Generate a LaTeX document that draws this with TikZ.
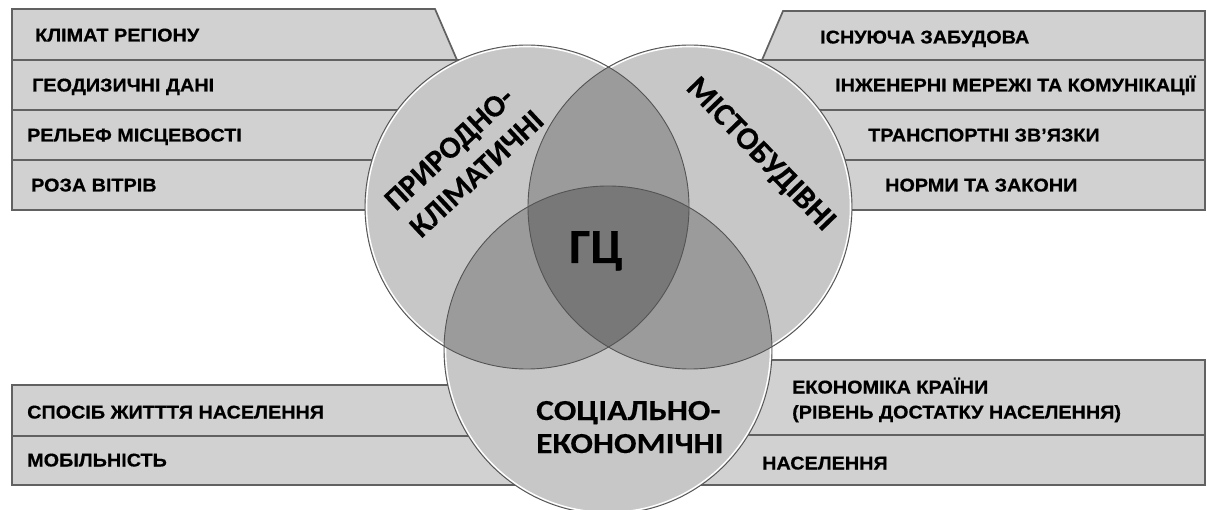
\documentclass[tikz,border=0pt]{standalone}
\usepackage{fontspec}
\setmainfont{Liberation Sans}[FakeStretch=1.07, BoldFeatures={FakeBold=0.6}]
\newfontfamily\calib{Carlito}[BoldFeatures={FakeBold=0.3}]
\newfontfamily\calibw{Carlito}[FakeStretch=1.15, BoldFeatures={FakeBold=0.3}]
\definecolor{boxfill}{gray}{0.82}
\definecolor{boxline}{gray}{0.38}
\definecolor{circline}{gray}{0.33}
\tikzset{
  boxst/.style={fill=boxfill, draw=boxline, line width=1.7pt, line join=miter},
  lbl/.style={anchor=base west, inner sep=0pt, font=\fontsize{18.5}{25}\selectfont\bfseries},
  clbl/.style={inner sep=0pt, align=left},
  circfill/.style={fill=black, opacity=0.22},
  circdraw/.style={draw=circline, line width=0.9pt},
  halo/.style={draw=white, line width=1.4pt}
}
\begin{document}
\begin{tikzpicture}[x=1pt,y=-1pt]
\useasboundingbox (0,0) rectangle (1207,510);
\fill[white] (0,0) rectangle (1207,510);
% ---------- boxes, left top
\draw[boxst] (12,9) -- (435,9) -- (457,60) -- (12,60) -- cycle;
\draw[boxst] (12,60) rectangle (520,110);
\draw[boxst] (12,110) rectangle (520,160);
\draw[boxst] (12,160) rectangle (520,210);
% right top
\draw[boxst] (1205,11) -- (783,11) -- (762,60) -- (1205,60) -- cycle;
\draw[boxst] (700,60) rectangle (1205,110);
\draw[boxst] (700,110) rectangle (1205,160);
\draw[boxst] (700,160) rectangle (1205,210);
% bottom left
\draw[boxst] (12,385) rectangle (560,436);
\draw[boxst] (12,436) rectangle (560,485);
% bottom right
\draw[boxst] (650,360) rectangle (1205,435);
\draw[boxst] (650,435) rectangle (1205,485);
% ---------- circles
\coordinate (L) at (527,207);
\coordinate (R) at (690,207);
\coordinate (B) at (608,350);
\fill[white] (L) circle (162) (R) circle (162) (B) circle (164);
\fill[circfill] (L) circle (162);
\fill[circfill] (R) circle (162);
\fill[circfill] (B) circle (164);
% halos on the outer boundary only
\begin{scope}[even odd rule]
  \clip (-5,-5) rectangle (1212,515) (R) circle (162);
  \clip (-5,-5) rectangle (1212,515) (B) circle (164);
  \draw[halo] (L) circle (160.4);
\end{scope}
\begin{scope}[even odd rule]
  \clip (-5,-5) rectangle (1212,515) (L) circle (162);
  \clip (-5,-5) rectangle (1212,515) (B) circle (164);
  \draw[halo] (R) circle (160.4);
\end{scope}
\begin{scope}[even odd rule]
  \clip (-5,-5) rectangle (1212,515) (L) circle (162);
  \clip (-5,-5) rectangle (1212,515) (R) circle (162);
  \draw[halo] (B) circle (162.4);
\end{scope}
\draw[circdraw] (L) circle (162);
\draw[circdraw] (R) circle (162);
\draw[circdraw] (B) circle (164);
% ---------- box labels
\node[lbl] (t1) at (35,41.5) {КЛІМАТ РЕГІОНУ};
\node[lbl] (t2) at (32,91.5) {ГЕОДИЗИЧНІ ДАНІ};
\node[lbl] (t3) at (27,141.5) {РЕЛЬЕФ МІСЦЕВОСТІ};
\node[lbl] (t4) at (31,191.5) {РОЗА ВІТРІВ};
\node[lbl] (r1) at (820,43.5) {ІСНУЮЧА ЗАБУДОВА};
\node[lbl] (r2) at (835,91.5) {ІНЖЕНЕРНІ МЕРЕЖІ ТА КОМУНІКАЦІЇ};
\node[lbl] (r3) at (868,141.5) {ТРАНСПОРТНІ ЗВ'ЯЗКИ};
\node[lbl] (r4) at (885,191.5) {НОРМИ ТА ЗАКОНИ};
\node[lbl] (b1) at (27,418.5) {СПОСІБ ЖИТТТЯ НАСЕЛЕННЯ};
\node[lbl] (b2) at (27,466.5) {МОБІЛЬНІСТЬ};
\node[lbl] (e1) at (792,393.5) {ЕКОНОМІКА КРАЇНИ};
\node[lbl] (e1b) at (792,418.5) {(РІВЕНЬ ДОСТАТКУ НАСЕЛЕННЯ)};
\node[lbl] (e2) at (762,469.5) {НАСЕЛЕННЯ};
% ---------- circle labels
\node[clbl, font=\calib\bfseries\fontsize{49}{50}\selectfont, anchor=base] (gc) at (596,263) {ГЦ};
\node[clbl, font=\calibw\bfseries\fontsize{29}{33}\selectfont, anchor=base west] (se) at (536,453) {СОЦІАЛЬНО-\\ЕКОНОМІЧНІ};
\node[clbl, font=\calib\bfseries\fontsize{31}{37}\selectfont, rotate=43] (pk) at (464,160) {ПРИРОДНО-\\КЛІМАТИЧНІ};
\node[clbl, font=\calib\bfseries\fontsize{32}{36}\selectfont, rotate=-46] (mb) at (760,155) {МІСТОБУДІВНІ};
\end{tikzpicture}
\end{document}
